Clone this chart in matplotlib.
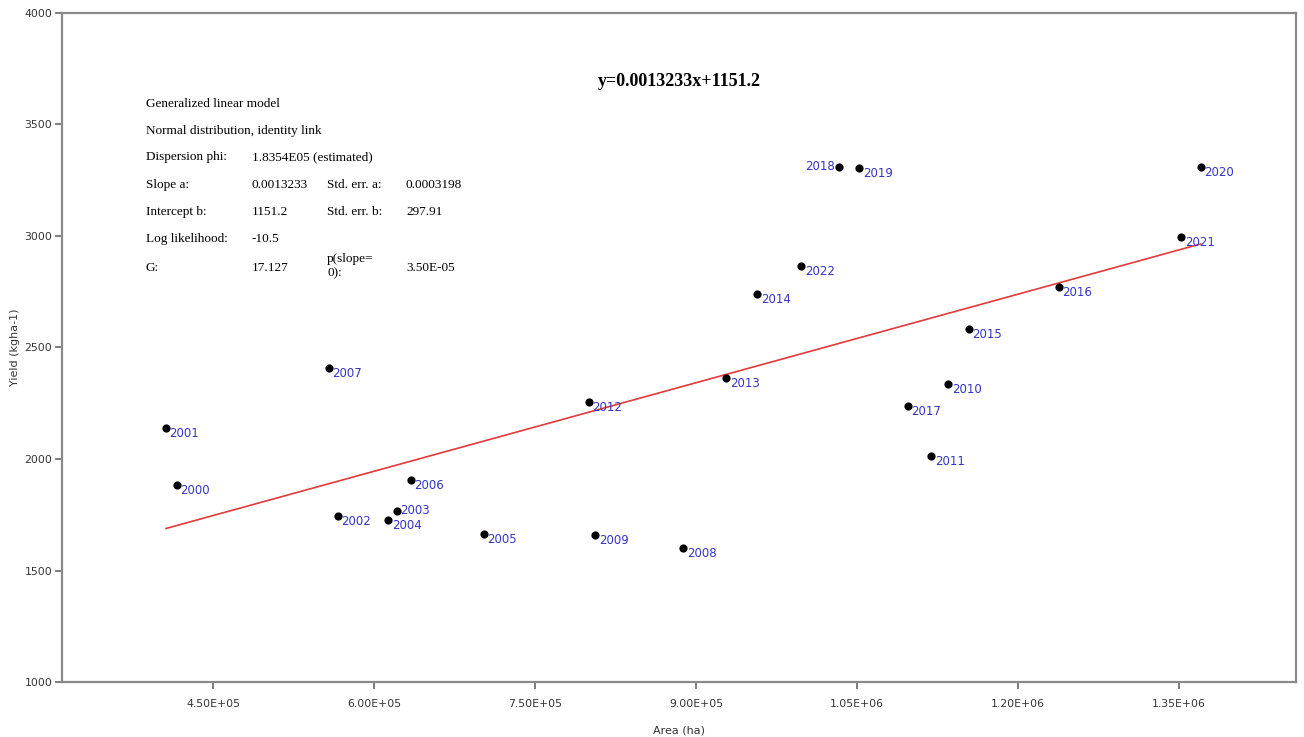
import matplotlib.pyplot as plt

# Jahre, Fläche (ha) und Ertrag (kg/ha)
years = [2000, 2001, 2002, 2003, 2004, 2005, 2006, 2007, 2008, 2009, 2010, 2011,
         2012, 2013, 2014, 2015, 2016, 2017, 2018, 2019, 2020, 2021, 2022]
area = [416000, 406000, 566000, 621000, 613000, 702000, 634000, 558000, 888000, 806000,
        1135000, 1119000, 800000, 928000, 957000, 1154000, 1238000, 1097000, 1033000,
        1052000, 1370000, 1352000, 998000]
yield_ = [1883, 2140, 1744, 1768, 1728, 1665, 1906, 2409, 1601, 1658, 2336, 2013,
          2256, 2365, 2740, 2583, 2773, 2238, 3311, 3305, 3311, 2997, 2865]

slope = 0.0013233
intercept = 1151.2

xticks = [450000, 600000, 750000, 900000, 1050000, 1200000, 1350000]
xtick_labels = ['4.50E+05', '6.00E+05', '7.50E+05', '9.00E+05', '1.05E+06', '1.20E+06', '1.35E+06']
yticks = [1000, 1500, 2000, 2500, 3000, 3500, 4000]

stats = [
    ['Generalized linear model'],
    ['Normal distribution, identity link'],
    ['Dispersion phi:', '1.8354E05 (estimated)'],
    ['Slope a:', '0.0013233', 'Std. err. a:', '0.0003198'],
    ['Intercept b:', '1151.2', 'Std. err. b:', '297.91'],
    ['Log likelihood:', '-10.5'],
    ['G:', '17.127', 'p(slope=\n0):', '3.50E-05'],
]

fig = plt.figure(figsize=(13.04, 7.37), dpi=100)
ax = fig.add_axes([0.0475, 0.0746, 0.9464, 0.9078])

ax.set_xlim(309000, 1459000)
ax.set_ylim(1000, 4000)

# Regressionsgerade
x0, x1 = min(area), max(area)
ax.plot([x0, x1], [slope * x0 + intercept, slope * x1 + intercept], color='#e03a3a', lw=1.2, zorder=2)

ax.scatter(area, yield_, s=24, color='black', zorder=3)

for yr, xa, ya in zip(years, area, yield_):
    if yr == 2018:
        ax.annotate(str(yr), (xa, ya), xytext=(-3, 0), textcoords='offset points',
                    ha='right', va='center', color='#3434c8', fontsize=8.5)
    elif yr == 2003:
        ax.annotate(str(yr), (xa, ya), xytext=(2.5, 0), textcoords='offset points',
                    ha='left', va='center', color='#3434c8', fontsize=8.5)
    else:
        ax.annotate(str(yr), (xa, ya), xytext=(2.5, -4), textcoords='offset points',
                    ha='left', va='center', color='#3434c8', fontsize=8.5)

ax.set_xticks(xticks)
ax.set_xticklabels(xtick_labels)
ax.set_yticks(yticks)
ax.tick_params(colors='#666666', labelcolor='#333333', labelsize=7.8, length=5, width=1.2,
               direction='out', pad=2)
ax.tick_params(axis='x', pad=7)
for s in ax.spines.values():
    s.set_color('#8a8a8a')
    s.set_linewidth(1.6)

ax.set_xlabel('Area (ha)', fontsize=8, color='#333333', labelpad=12)
ax.set_ylabel('Yield (kgha-1)', fontsize=8, color='#333333')
ax.yaxis.set_label_coords(-0.034, 0.5)

# Gleichung
ax.text(0.5, 0.898, 'y=0.0013233x+1151.2', transform=ax.transAxes, ha='center', va='center',
        fontsize=13, fontweight='bold', family='Liberation Serif')

# Statistik-Block
col_x = [146, 252, 327, 406]
row_y = [104, 131, 157, 185, 212, 239, 268]
for row, py in zip(stats, row_y):
    for txt, px in zip(row, col_x):
        if '\n' in txt:
            fig.text(px / 1304, 1 - (py - 2) / 737, txt, ha='left', va='center',
                     fontsize=9.5, family='Liberation Serif', linespacing=1.25)
        else:
            fig.text(px / 1304, 1 - py / 737, txt, ha='left', va='center',
                     fontsize=9.5, family='Liberation Serif')

fig.savefig('out.png', dpi=100)
